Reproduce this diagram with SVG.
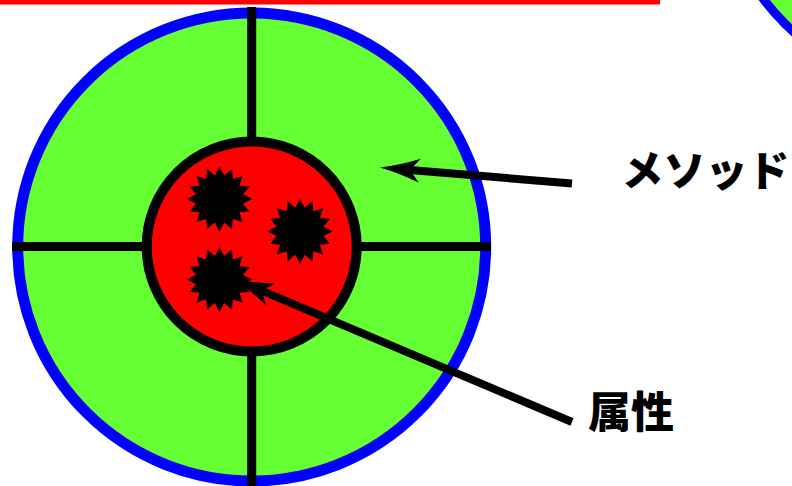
<svg xmlns="http://www.w3.org/2000/svg" width="792" height="486" viewBox="0 0 792 486">
<style>
.ring{fill:#66ff33;stroke:#0000ff}
.cross{stroke:#000;stroke-width:9;fill:none}
.core{fill:#ff0000;stroke:#000;stroke-width:10}
.burst{fill:#000}
.conn{stroke:#000;stroke-width:8;fill:none;marker-end:url(#harpoon)}
.lbl{font-family:"Noto Sans CJK JP","Noto Sans CJK SC",sans-serif;font-weight:900;fill:#000}
</style>
<defs>
<marker id="harpoon" markerUnits="userSpaceOnUse" markerWidth="50" markerHeight="30" viewBox="0 -15 50 30" refX="10" refY="0" orient="auto">
<path d="M40,0 Q20,-4 0,-12 L10,0 L0,12 Q20,4 40,0 Z" fill="#000"/>
</marker>
<path id="star" d="M0,-32.5 L4.68,-23.54 L12.44,-30.03 L13.33,-19.96 L22.98,-22.98 L19.96,-13.33 L30.03,-12.44 L23.54,-4.68 L32.5,0 L23.54,4.68 L30.03,12.44 L19.96,13.33 L22.98,22.98 L13.33,19.96 L12.44,30.03 L4.68,23.54 L0,32.5 L-4.68,23.54 L-12.44,30.03 L-13.33,19.96 L-22.98,22.98 L-19.96,13.33 L-30.03,12.44 L-23.54,4.68 L-32.5,0 L-23.54,-4.68 L-30.03,-12.44 L-19.96,-13.33 L-22.98,-22.98 L-13.33,-19.96 L-12.44,-30.03 L-4.68,-23.54 Z"/>
</defs>
<rect id="topbar" x="0" y="0" width="660" height="4.5" fill="#ff0000"/>
<g id="other-object">
<circle class="ring" cx="952" cy="-143" r="236" stroke-width="9"/>
</g>
<g id="object">
<circle class="ring" cx="251.7" cy="247" r="234" stroke-width="11"/>
<line class="cross" x1="251.7" y1="7" x2="251.7" y2="486"/>
<line class="cross" x1="12" y1="246.5" x2="491" y2="246.5"/>
<circle class="core" cx="251.7" cy="246.5" r="105"/>
</g>
<g id="attributes">
<use id="attr1" class="burst" href="#star" transform="translate(219.5,199)"/>
<use id="attr2" class="burst" href="#star" transform="translate(300,231.3)"/>
<use id="attr3" class="burst" href="#star" transform="translate(219.5,279.5)"/>
</g>
<g id="connectors">
<path class="conn" d="M572,183.5 L409.9,170"/>
<path class="conn" d="M572,422 L261.6,290.6"/>
</g>
<g id="label-method">
<text class="lbl" x="621.5" y="186" font-size="42">メソッド</text>
</g>
<g id="label-attr">
<text class="lbl" x="588" y="427.5" font-size="43">属性</text>
</g>
</svg>
